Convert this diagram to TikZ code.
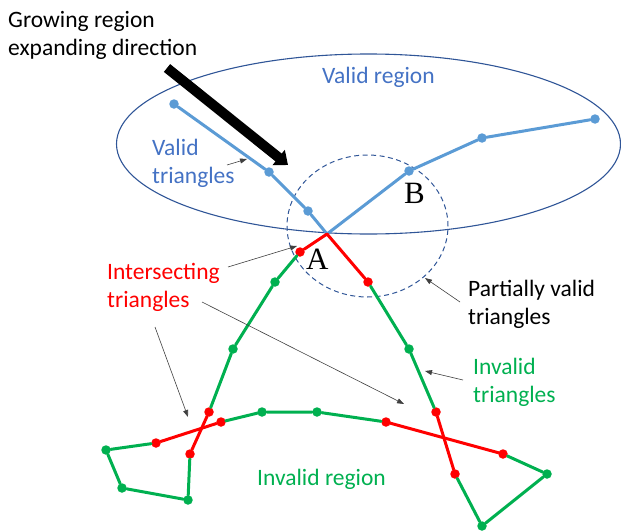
\documentclass[tikz,border=0pt]{standalone}
\usepackage{fontspec}
\usepackage{xcolor}
\usepackage{tikz}
\usetikzlibrary{arrows.meta,positioning,shapes.geometric}
\newfontfamily\calib{Carlito}
\newfontfamily\ptserif{Liberation Serif}
\definecolor{lineblue}{RGB}{91, 155, 213}
\definecolor{regionblue}{RGB}{47, 85, 151}
\definecolor{textblue}{RGB}{68, 114, 196}
\definecolor{invgreen}{RGB}{0, 176, 80}
\definecolor{isred}{RGB}{255, 0, 0}

\begin{document}
\begin{tikzpicture}[x=1pt, y=-1pt,
  vtx/.style={circle, inner sep=0pt, minimum size=9.5pt, fill=#1},
  seg/.style={line width=3pt, draw=#1, line cap=round, line join=round},
  lbl/.style={font=\calib\fontsize{23.5}{28}\selectfont, inner sep=0pt, align=left, anchor=base west},
  ptlbl/.style={font=\ptserif\fontsize{31}{31}\selectfont, inner sep=0pt, anchor=base west},
  note/.style={-{Triangle[length=7pt, width=5pt]}, line width=0.6pt, draw=black!75}]
 \useasboundingbox (0,0) rectangle (621,530);

 \node[draw=regionblue, line width=1.1pt, ellipse, minimum width=504pt, minimum height=180pt] (validreg) at (368.5,144) {};
 \node[draw=regionblue, line width=1pt, dash pattern=on 5pt off 3.5pt, ellipse, minimum width=161pt, minimum height=142pt] (partial) at (367.5,226) {};

 \node[vtx=lineblue] (bl1) at (174,104) {};
 \node[vtx=lineblue] (bl2) at (269,172) {};
 \node[vtx=lineblue] (bl3) at (308,211) {};
 \coordinate (P) at (327,234);
 \node[vtx=lineblue] (br1) at (409,171) {};
 \node[vtx=lineblue] (br2) at (482,138) {};
 \node[vtx=lineblue] (br3) at (595,119) {};

 \node[vtx=isred] (ra1) at (300,252) {};
 \node[vtx=isred] (ra2) at (368,282) {};
 \node[vtx=invgreen] (ga1) at (275,282) {};
 \node[vtx=invgreen] (ga2) at (233,349) {};
 \node[vtx=isred] (rb1) at (209,412) {};
 \node[vtx=isred] (rb2) at (190,454) {};
 \node[vtx=invgreen] (gb1) at (188,500) {};
 \node[vtx=invgreen] (gb2) at (122,488) {};
 \node[vtx=invgreen] (gb3) at (106,450) {};
 \node[vtx=isred] (rc1) at (156,443) {};
 \node[vtx=isred] (rc2) at (221,422) {};
 \node[vtx=invgreen] (gc1) at (262,412) {};
 \node[vtx=invgreen] (gc2) at (317,412) {};
 \node[vtx=isred] (rc3) at (386,422) {};
 \node[vtx=isred] (rc4) at (503,454) {};
 \node[vtx=invgreen] (gd1) at (547,474) {};
 \node[vtx=invgreen] (gd2) at (482,526) {};
 \node[vtx=isred] (rd1) at (455,474) {};
 \node[vtx=isred] (rd2) at (436,412) {};
 \node[vtx=invgreen] (ge1) at (409,349) {};

 \draw[seg=lineblue] (bl1) -- (bl2) -- (bl3) -- (P) -- (br1) -- (br2) -- (br3);
 \draw[seg=isred] (ra1) -- (P) -- (ra2);
 \draw[seg=invgreen] (ra1) -- (ga1) -- (ga2) -- (rb1);
 \draw[seg=isred] (rb1) -- (rb2);
 \draw[seg=invgreen] (rb2) -- (gb1) -- (gb2) -- (gb3) -- (rc1);
 \draw[seg=isred] (rc1) -- (rc2);
 \draw[seg=invgreen] (rc2) -- (gc1) -- (gc2) -- (rc3);
 \draw[seg=isred] (rc3) -- (rc4);
 \draw[seg=invgreen] (rc4) -- (gd1) -- (gd2) -- (rd1);
 \draw[seg=isred] (rd1) -- (rd2);
 \draw[seg=invgreen] (rd2) -- (ge1) -- (ra2);

 \node[lbl] (growtxt) at (8,55) {Growing region\\expanding direction};
 \node[lbl, text=textblue] (validtxt) at (322,83) {Valid region};
 \node[lbl, text=textblue] (vtritxt) at (152,183) {Valid\\triangles};
 \node[lbl, text=isred] (intertxt) at (107,307) {Intersecting\\triangles};
 \node[lbl] (parttxt) at (468,324) {Partially valid\\triangles};
 \node[lbl, text=invgreen] (invtritxt) at (473,402) {Invalid\\triangles};
 \node[lbl, text=invgreen] (invregtxt) at (257,485) {Invalid region};
 \node[ptlbl] (ptB) at (404,203) {B};
 \node[ptlbl] (ptA) at (306,269) {A};

 \coordinate (growtail) at (167,68);
 \coordinate (growtip) at (288,165);
 \draw[-{Triangle[length=12pt, width=19pt]}, line width=10pt] (growtail) -- (growtip);

 \coordinate (vtrit) at (227,165);
 \coordinate (vtrih) at (247,159);
 \draw[note] (vtrit) -- (vtrih);
 \coordinate (inter1t) at (228,267);
 \coordinate (inter1h) at (297,246);
 \draw[note] (inter1t) -- (inter1h);
 \coordinate (inter2t) at (202,302);
 \coordinate (inter2h) at (404,404);
 \draw[note] (inter2t) -- (inter2h);
 \coordinate (inter3t) at (155,327);
 \coordinate (inter3h) at (188,417);
 \draw[note] (inter3t) -- (inter3h);
 \coordinate (partt) at (460,302);
 \coordinate (parth) at (425,278);
 \draw[note] (partt) -- (parth);
 \coordinate (invt) at (463,380);
 \coordinate (invh) at (425,371);
 \draw[note] (invt) -- (invh);
\end{tikzpicture}
\end{document}
